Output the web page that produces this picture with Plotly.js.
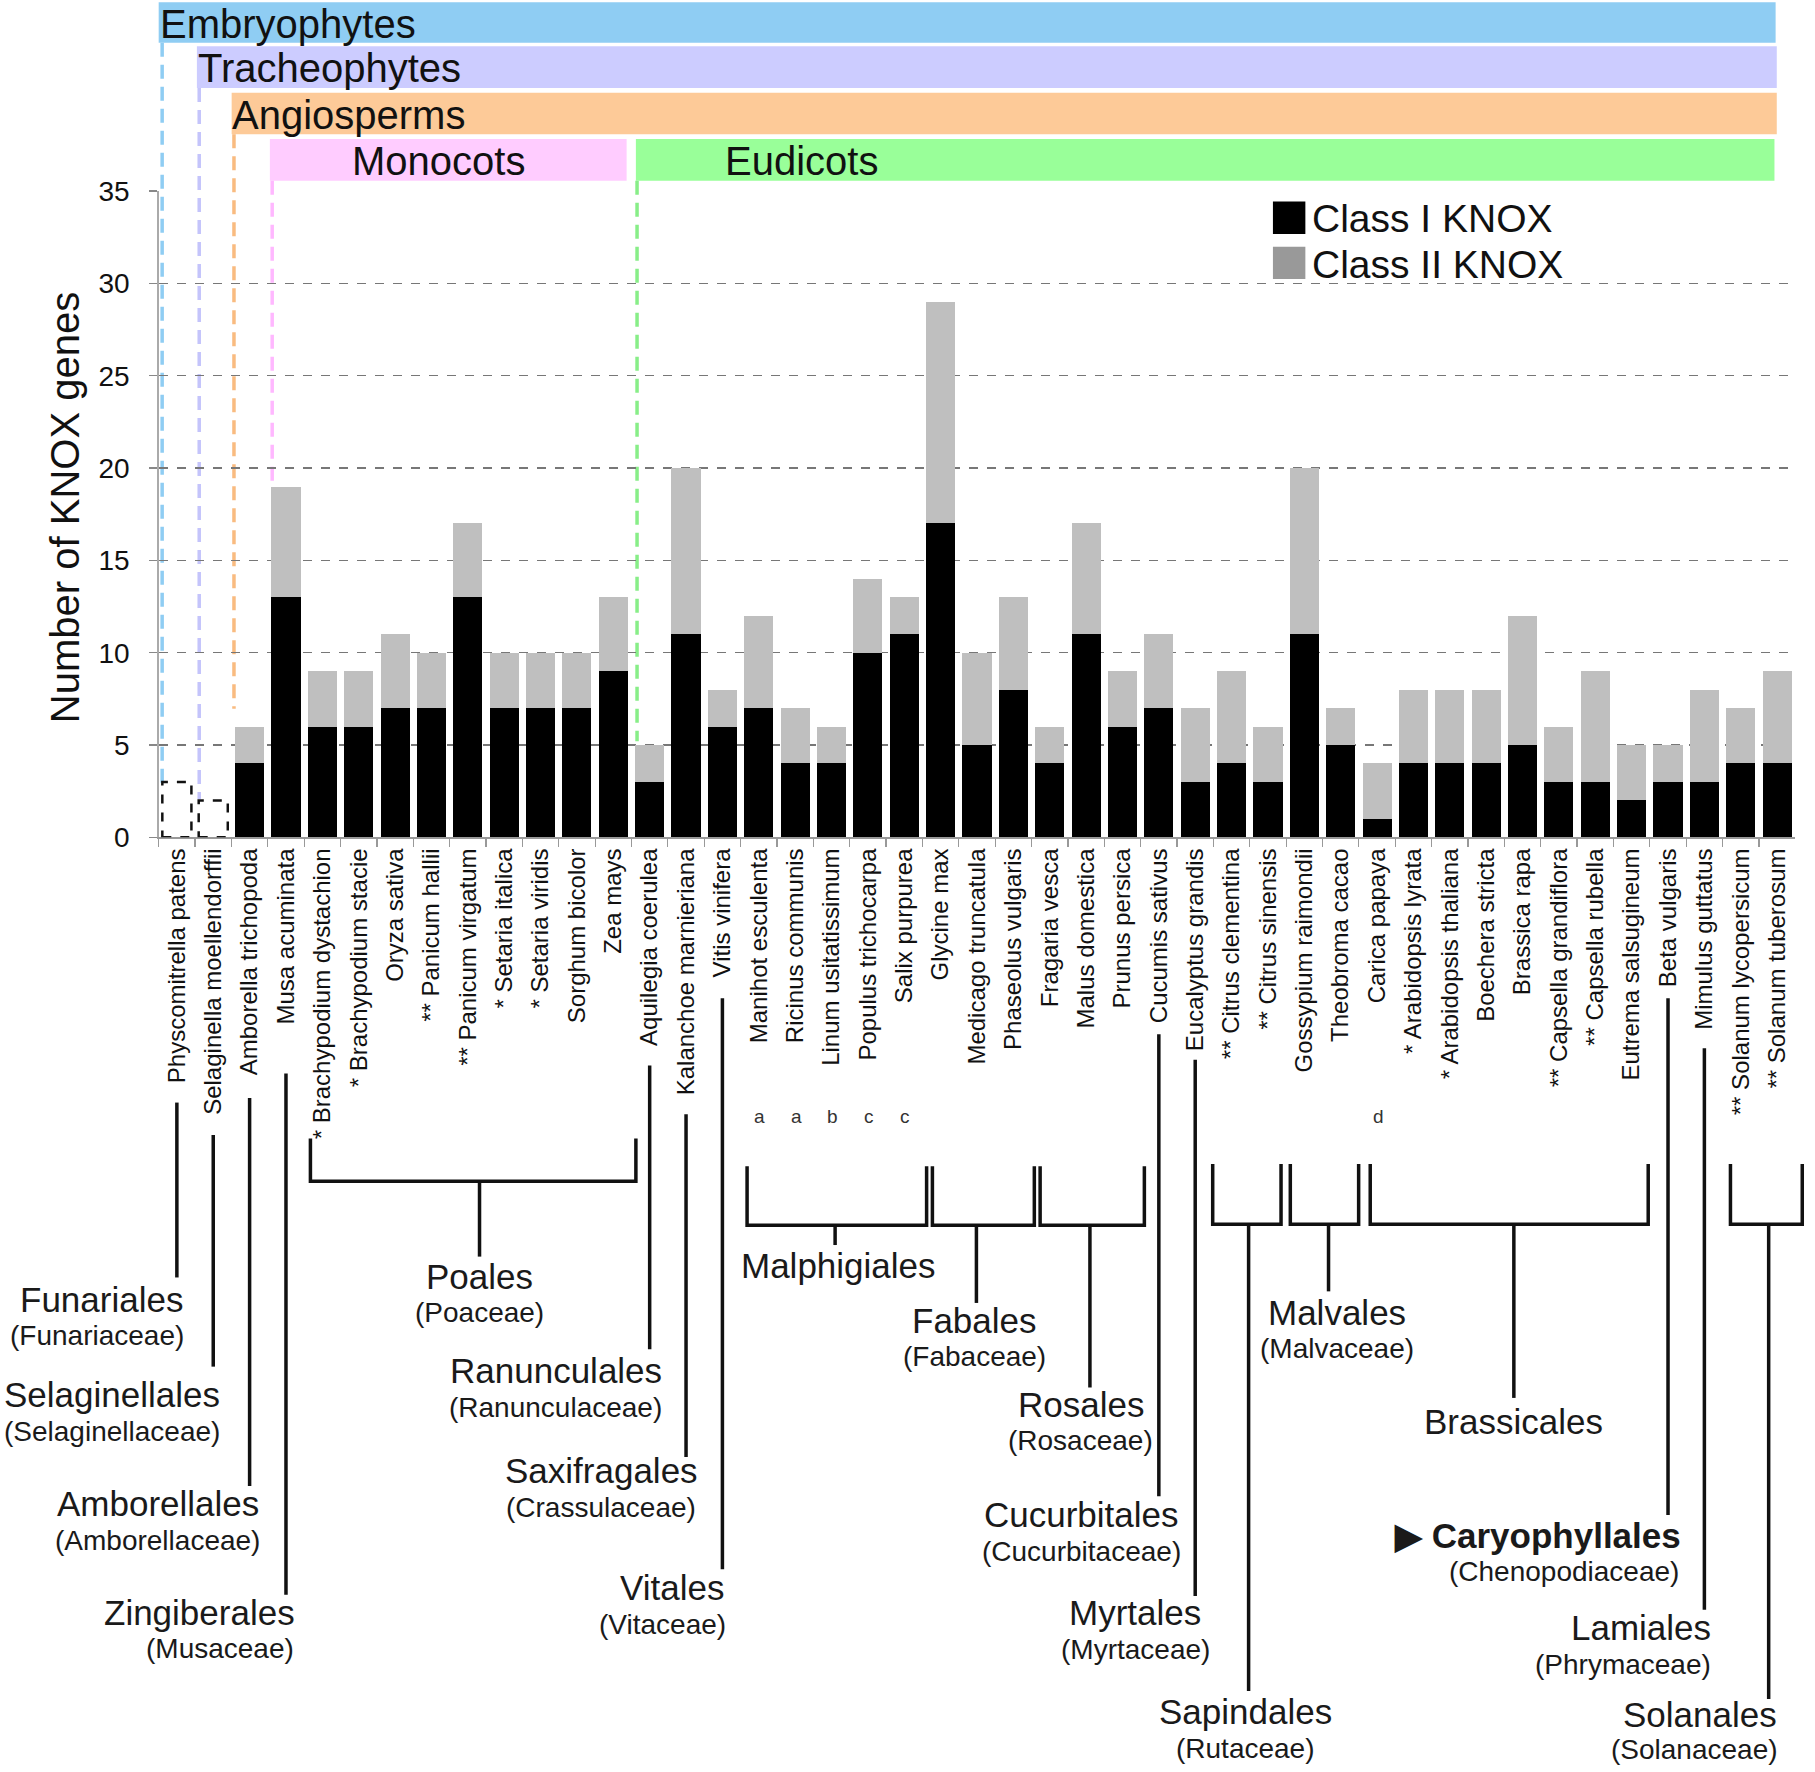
<!DOCTYPE html>
<html>
<head>
<meta charset="utf-8">
<script src="https://cdn.plot.ly/plotly-3.0.1.min.js"></script>
<style>html,body{margin:0;padding:0;background:#fff;}#chart{width:1815px;height:1772px;}</style>
</head>
<body>
<div id="chart"></div>
<script>
// ---------------- DATA ----------------
const species = [
  "Physcomitrella patens", "Selaginella moellendorffii", "Amborella trichopoda", "Musa acuminata",
  "* Brachypodium dystachion", "* Brachypodium stacie", "Oryza sativa", "** Panicum hallii",
  "** Panicum virgatum", "* Setaria italica", "* Setaria viridis", "Sorghum bicolor", "Zea mays",
  "Aquilegia coerulea", "Kalanchoe marnieriana", "Vitis vinifera", "Manihot esculenta",
  "Ricinus communis", "Linum usitatissimum", "Populus trichocarpa", "Salix purpurea", "Glycine max",
  "Medicago truncatula", "Phaseolus vulgaris", "Fragaria vesca", "Malus domestica", "Prunus persica",
  "Cucumis sativus", "Eucalyptus grandis", "** Citrus clementina", "** Citrus sinensis",
  "Gossypium raimondii", "Theobroma cacao", "Carica papaya", "* Arabidopsis lyrata",
  "* Arabidopsis thaliana", "Boechera stricta", "Brassica rapa", "** Capsella grandiflora",
  "** Capsella rubella", "Eutrema salsugineum", "Beta vulgaris", "Mimulus guttatus",
  "** Solanum lycopersicum", "** Solanum tuberosum"
];
const classI = [null, null, 4, 13, 6, 6, 7, 7, 13, 7, 7, 7, 9, 3, 11, 6, 7, 4, 4, 10, 11, 17, 5, 8, 4, 11, 6, 7, 3, 4, 3, 11, 5, 1, 4, 4, 4, 5, 3, 3, 2, 3, 3, 4, 4];
const classII = [null, null, 2, 6, 3, 3, 4, 3, 4, 3, 3, 3, 4, 2, 9, 2, 5, 3, 2, 4, 2, 12, 5, 5, 2, 6, 3, 4, 4, 5, 3, 9, 2, 3, 4, 4, 4, 7, 3, 6, 3, 2, 5, 3, 5];
// species without classified KNOX bars (dashed outline totals)
const dashedSpecies = ["Physcomitrella patens", "Selaginella moellendorffii"];
const dashedTotals = [3, 2];
const yTicks = [0, 5, 10, 15, 20, 25, 30, 35];
const seriesNames = ["Class I KNOX", "Class II KNOX"];
const sitesLetters = ["a", "a", "b", "c", "c", "d"];
const sitesSpecies = ["Manihot esculenta", "Ricinus communis", "Linum usitatissimum", "Populus trichocarpa", "Salix purpurea", "Carica papaya"];

// ---------------- GEOMETRY HELPERS (layout only) ----------------
const FW = 1567, FH = 1530;              // reference frame units
const px = v => v / FW;
const py = v => 1 - v / FH;
const X0 = 137, X1 = 1550;               // plot area in frame units
const Y0 = 723, Y35 = 165;
const slot = (X1 - X0) / species.length;
const ix = i => X0 + (i + 0.5) * slot;   // category centre (frame units)
const FONT = "Liberation Sans, Arial, sans-serif";

const shapes = [];
const annotations = [];

// header clade bars
const clades = [
  {t: "Embryophytes", x0: 137, x1: 1533, y0: 2, y1: 37, c: "#8fcdf3", tx: 136, anchor: "left", line: {x: 140, y1: 676, c: "#8fcdf3"}},
  {t: "Tracheophytes", x0: 170, x1: 1534, y0: 40, y1: 76, c: "#ccccff", tx: 169, anchor: "left", line: {x: 172, y1: 690, c: "#c4c4fb"}},
  {t: "Angiosperms", x0: 200, x1: 1534, y0: 80, y1: 116, c: "#fdca98", tx: 199, anchor: "left", line: {x: 202, y1: 612, c: "#f9bb80"}},
  {t: "Monocots", x0: 233, x1: 541, y0: 120, y1: 156, c: "#ffccff", tx: 379, anchor: "center", line: {x: 235, y1: 418, c: "#ffb8ff"}},
  {t: "Eudicots", x0: 549, x1: 1532, y0: 120, y1: 156, c: "#99ff99", tx: 692, anchor: "center", line: {x: 550, y1: 640, c: "#88ee88"}}
];
clades.forEach(cl => {
  shapes.push({type: "rect", xref: "paper", yref: "paper", x0: px(cl.x0), x1: px(cl.x1), y0: py(cl.y1), y1: py(cl.y0), fillcolor: cl.c, line: {width: 0}, layer: "below"});
  shapes.push({type: "line", xref: "paper", yref: "paper", x0: px(cl.line.x), x1: px(cl.line.x), y0: py(cl.y1), y1: py(cl.line.y1), line: {color: cl.line.c, width: 3.5, dash: "14px,8px"}, layer: "below"});
  annotations.push({xref: "paper", yref: "paper", x: px(cl.tx), y: py((cl.y0 + cl.y1) / 2 + 1), text: cl.t, showarrow: false, xanchor: cl.anchor, yanchor: "middle", font: {family: FONT, size: 40, color: "#111"}});
});

// dashed outline bars (uncharacterised)
dashedSpecies.forEach((s, k) => {
  const i = species.indexOf(s);
  shapes.push({type: "rect", xref: "x", yref: "y", x0: i - 0.4, x1: i + 0.4, y0: 0, y1: dashedTotals[k], line: {color: "#111", width: 2.5, dash: "dash"}, fillcolor: "rgba(0,0,0,0)"});
});

// legend (manual, large swatches)
const legColors = ["#000000", "#999999"];
seriesNames.forEach((n, k) => {
  const yc = 188 + k * 39;
  shapes.push({type: "rect", xref: "paper", yref: "paper", x0: px(1099), x1: px(1127), y0: py(yc + 14), y1: py(yc - 14), fillcolor: legColors[k], line: {width: 0}});
  annotations.push({xref: "paper", yref: "paper", x: px(1131), y: py(yc + 1), text: n, showarrow: false, xanchor: "left", yanchor: "middle", font: {family: FONT, size: 39, color: "#111"}});
});

// y axis title
annotations.push({xref: "paper", yref: "paper", x: px(56), y: py(438), text: "Number of KNOX genes", textangle: -90, showarrow: false, xanchor: "center", yanchor: "middle", font: {family: FONT, size: 40, color: "#111"}});

// site letters
sitesSpecies.forEach((s, k) => {
  const i = species.indexOf(s);
  annotations.push({xref: "paper", yref: "paper", x: px(ix(i) + 1), y: py(964), text: sitesLetters[k], showarrow: false, xanchor: "center", yanchor: "middle", font: {family: FONT, size: 19, color: "#333"}});
});

// tree: single stems (category index, top, bottom)
const LW = 3.5;
const stems = [[0, 952, 1103], [1, 980, 1180], [2, 948, 1283], [3, 927, 1377], [13, 920, 1165], [14, 962, 1258], [15, 862, 1355], [27, 893, 1292], [28, 915, 1378], [41, 862, 1308], [42, 905, 1390]];
stems.forEach(s => {
  const x = px(ix(s[0]));
  shapes.push({type: "line", xref: "paper", yref: "paper", x0: x, x1: x, y0: py(s[1]), y1: py(s[2]), line: {color: "#111", width: LW}});
});
// brackets: left, right, top, bottom, stemX, stemBottom
const brackets = [
  [268, 549, 983, 1020, 414, 1085],
  [645, 800, 1007, 1058, 721, 1075],
  [805, 893, 1007, 1058, 843, 1125],
  [898, 988, 1007, 1058, 941, 1198],
  [1047, 1106, 1005, 1057, 1078, 1460],
  [1114, 1173, 1005, 1057, 1147, 1115],
  [1183, 1423, 1005, 1057, 1307, 1207],
  [1494, 1556, 1005, 1057, 1527, 1467]
];
brackets.forEach(b => {
  const path = `M ${px(b[0])} ${py(b[2])} L ${px(b[0])} ${py(b[3])} L ${px(b[1])} ${py(b[3])} L ${px(b[1])} ${py(b[2])}`;
  shapes.push({type: "path", xref: "paper", yref: "paper", path: path, line: {color: "#111", width: LW}});
  shapes.push({type: "line", xref: "paper", yref: "paper", x0: px(b[4]), x1: px(b[4]), y0: py(b[3]), y1: py(b[5]), line: {color: "#111", width: LW}});
});

// order / family labels
const orderLabels = [
  ["Funariales", 88, 1122, "(Funariaceae)", 84, 1153],
  ["Selaginellales", 97, 1204, "(Selaginellaceae)", 97, 1236],
  ["Amborellales", 136, 1298, "(Amborellaceae)", 136, 1330],
  ["Zingiberales", 172, 1392, "(Musaceae)", 190, 1423],
  ["Poales", 414, 1102, "(Poaceae)", 414, 1133],
  ["Ranunculales", 480, 1183, "(Ranunculaceae)", 480, 1215],
  ["Saxifragales", 519, 1270, "(Crassulaceae)", 519, 1302],
  ["Vitales", 580, 1371, "(Vitaceae)", 572, 1403],
  ["Malphigiales", 724, 1093, "", 0, 0],
  ["Fabales", 841, 1140, "(Fabaceae)", 841, 1171],
  ["Rosales", 933, 1213, "(Rosaceae)", 933, 1244],
  ["Cucurbitales", 934, 1308, "(Cucurbitaceae)", 934, 1340],
  ["Myrtales", 980, 1392, "(Myrtaceae)", 980, 1424],
  ["Sapindales", 1075, 1478, "(Rutaceae)", 1075, 1510],
  ["Malvales", 1154, 1133, "(Malvaceae)", 1154, 1164],
  ["Brassicales", 1307, 1227, "", 0, 0],
  ["<b>▶ Caryophyllales</b>", 1327, 1326, "(Chenopodiaceae)", 1350, 1357],
  ["Lamiales", 1417, 1405, "(Phrymaceae)", 1401, 1437],
  ["Solanales", 1468, 1480, "(Solanaceae)", 1463, 1511]
];
orderLabels.forEach(o => {
  annotations.push({xref: "paper", yref: "paper", x: px(o[1]), y: py(o[2]), text: o[0], showarrow: false, xanchor: "center", yanchor: "middle", font: {family: FONT, size: 35, color: "#1a1a1a"}});
  if (o[3]) annotations.push({xref: "paper", yref: "paper", x: px(o[4]), y: py(o[5]), text: o[3], showarrow: false, xanchor: "center", yanchor: "middle", font: {family: FONT, size: 28, color: "#1a1a1a"}});
});

// ---------------- TRACES ----------------
const traces = [
  {type: "bar", name: seriesNames[0], x: species, y: classI, marker: {color: "#000000", line: {width: 0}}, showlegend: false, hoverinfo: "x+y+name"},
  {type: "bar", name: seriesNames[1], x: species, y: classII, marker: {color: "#bfbfbf", line: {width: 0}}, showlegend: false, hoverinfo: "x+y+name"}
];

const layout = {
  width: 1815, height: 1772,
  margin: {l: 0, r: 0, t: 0, b: 0},
  paper_bgcolor: "#ffffff", plot_bgcolor: "rgba(0,0,0,0)",
  barmode: "stack", bargap: 0.2,
  font: {family: FONT, color: "#111"},
  showlegend: false,
  xaxis: {
    domain: [px(X0), px(X1)], type: "category", categoryorder: "array", categoryarray: species,
    range: [-0.5, species.length - 0.5], tickangle: -90, tickson: "boundaries",
    ticks: "outside", ticklen: 8, tickcolor: "#999", tickwidth: 1.2,
    showline: true, linecolor: "#999", linewidth: 1.5, showgrid: false, zeroline: false,
    tickfont: {family: FONT, size: 24, color: "#111"}, automargin: false, fixedrange: true
  },
  yaxis: {
    domain: [py(Y0), py(Y35)], range: [0, 35], tickvals: yTicks, ticktext: yTicks.map(String),
    ticks: "outside", ticklen: 8, tickcolor: "#888", tickwidth: 1.2,
    showline: true, linecolor: "#aaa", linewidth: 1.5,
    showgrid: true, gridcolor: "#777", griddash: "dash", gridwidth: 1.3, zeroline: false,
    tickfont: {family: FONT, size: 28, color: "#111"}, automargin: false, fixedrange: true, ticklabelstandoff: 14
  },
  shapes: shapes,
  annotations: annotations
};

Plotly.newPlot("chart", traces, layout, {staticPlot: true, displayModeBar: false});
</script>
</body>
</html>
